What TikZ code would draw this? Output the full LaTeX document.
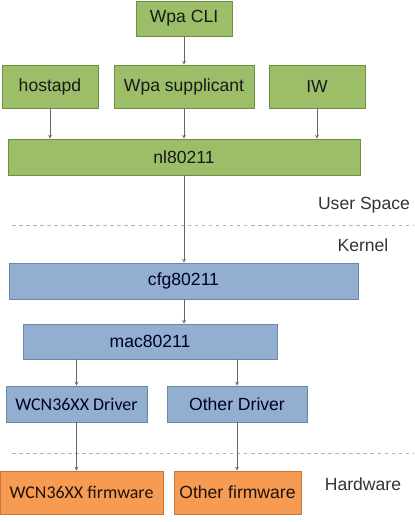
\documentclass[tikz,border=0pt]{standalone}
\usepackage{fontspec}
\setmainfont{Liberation Sans}
\newfontfamily\calfont{Carlito}
\usetikzlibrary{shapes,arrows,positioning,calc}

\definecolor{usrfill}{HTML}{9CBE68}
\definecolor{usrdraw}{HTML}{6F8F45}
\definecolor{kernfill}{HTML}{93AFD0}
\definecolor{kerndraw}{HTML}{6A86A8}
\definecolor{hwfill}{HTML}{F79A52}
\definecolor{hwdraw}{HTML}{C8763A}

\begin{document}
\begin{tikzpicture}[
    usrbox/.style={draw=usrdraw, rectangle, fill=usrfill, line width=0.6pt, inner sep=0pt, text=black!90, font=\fontsize{15}{17}\selectfont},
    kernbox/.style={draw=kerndraw, rectangle, fill=kernfill, line width=0.6pt, inner sep=0pt, text=black!85!blue, font=\fontsize{15}{17}\selectfont},
    hwbox/.style={draw=hwdraw, rectangle, fill=hwfill, line width=0.6pt, inner sep=0pt, text=black!85!brown, font=\fontsize{15}{17}\selectfont},
    edge/.style={-stealth, line width=0.5pt, draw=black!60},
    label/.style={font=\fontsize{15}{17}\selectfont, text=black!80},
    divider/.style={dashed, line width=0.6pt, draw=black!30},
]
\useasboundingbox (0,0) rectangle (12.45,-15.66);

% User space
\node[usrbox, minimum width=2.88cm, minimum height=1.05cm] (wpacli) at (5.52, -0.555) {Wpa CLI};
\node[usrbox, minimum width=2.88cm, minimum height=1.29cm] (hostapd) at (1.5, -2.595) {hostapd};
\node[usrbox, minimum width=4.2cm, minimum height=1.29cm] (wpasupp) at (5.52, -2.595) {Wpa supplicant};
\node[usrbox, minimum width=2.88cm, minimum height=1.29cm] (iw) at (9.51, -2.595) {IW};
\node[usrbox, minimum width=10.56cm, minimum height=1.08cm] (nl) at (5.52, -4.71) {nl80211};

% Layer labels and dividers
\node[label, anchor=east] (userlbl) at (12.42, -6.15) {User Space};
\coordinate (div1a) at (0.36, -6.75);
\coordinate (div1b) at (12.42, -6.75);
\draw[divider] (div1a) -- (div1b);
\node[label] (kernlbl) at (10.89, -7.35) {Kernel};

% Kernel
\node[kernbox, minimum width=10.47cm, minimum height=1.08cm] (cfg) at (5.505, -8.43) {cfg80211};
\node[kernbox, minimum width=7.62cm, minimum height=1.05cm] (mac) at (4.5, -10.245) {mac80211};
\node[kernbox, minimum width=4.23cm, minimum height=1.08cm, font=\calfont\fontsize{15.3}{17}\selectfont] (wcndrv) at (2.295, -12.12) {WCN36XX Driver};
\node[kernbox, minimum width=4.2cm, minimum height=1.08cm] (othdrv) at (7.11, -12.12) {Other Driver};

\coordinate (div2a) at (0.36, -13.59);
\coordinate (div2b) at (12.42, -13.59);
\draw[divider] (div2a) -- (div2b);

% Hardware
\node[hwbox, minimum width=4.89cm, minimum height=1.29cm, font=\calfont\fontsize{15.3}{17}\selectfont] (wcnfw) at (2.445, -14.775) {WCN36XX firmware};
\node[hwbox, minimum width=3.81cm, minimum height=1.29cm] (othfw) at (7.125, -14.775) {Other firmware};
\node[label] (hwlbl) at (10.89, -14.52) {Hardware};

% Edges
\draw[edge] (wpacli) -- (wpasupp);
\draw[edge] (hostapd) -- (hostapd |- nl.north);
\draw[edge] (wpasupp) -- (nl);
\draw[edge] (iw) -- (iw |- nl.north);
\draw[edge] (nl) -- (nl |- cfg.north);
\draw[edge] (nl |- cfg.south) -- (nl |- mac.north);
\draw[edge] (mac.south -| wcndrv) -- (wcndrv);
\draw[edge] (mac.south -| othdrv) -- (othdrv);
\draw[edge] (wcndrv) -- (wcndrv |- wcnfw.north);
\draw[edge] (othdrv) -- (othdrv |- othfw.north);

\end{tikzpicture}
\end{document}
